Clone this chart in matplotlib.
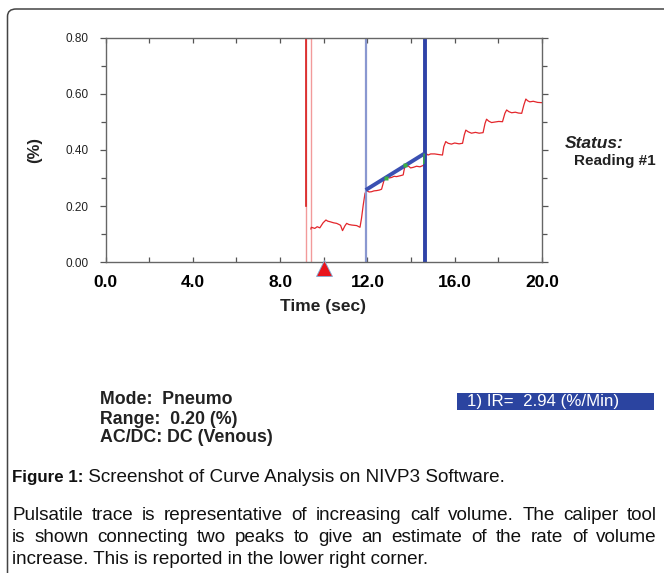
import matplotlib
matplotlib.use("Agg")
import matplotlib.pyplot as plt
from matplotlib.patches import FancyBboxPatch, Rectangle

plt.rcParams['font.family'] = ['Liberation Sans', 'DejaVu Sans']

# trace (sec, %)
trace_t = [9.41, 9.43, 9.59, 9.70, 9.82, 9.97, 10.10, 10.18, 10.28, 10.45,
           10.59, 10.70, 10.77, 10.86, 10.97, 11.05, 11.15, 11.28, 11.40, 11.51,
           11.66, 11.73, 11.81, 11.89, 11.96, 12.08, 12.19, 12.30, 12.42, 12.55,
           12.65, 12.72, 12.80, 12.91, 13.00, 13.11, 13.22, 13.34, 13.50, 13.64,
           13.68, 13.72, 13.87, 13.98, 14.10, 14.25, 14.41, 14.59, 14.62, 14.63,
           14.78, 14.90, 15.08, 15.25, 15.44, 15.50, 15.59, 15.70, 15.85, 16.00,
           16.20, 16.36, 16.44, 16.51, 16.62, 16.77, 16.95, 17.12, 17.30, 17.39,
           17.46, 17.56, 17.69, 17.85, 18.02, 18.19, 18.30, 18.38, 18.48, 18.61,
           18.78, 18.92, 19.07, 19.17, 19.26, 19.34, 19.44, 19.60, 19.80, 20.00]
trace_v = [0.118, 0.124, 0.120, 0.126, 0.122, 0.140, 0.150, 0.146, 0.144, 0.140,
           0.138, 0.134, 0.131, 0.112, 0.129, 0.138, 0.134, 0.132, 0.131, 0.130,
           0.124, 0.156, 0.204, 0.245, 0.255, 0.250, 0.251, 0.254, 0.255, 0.257,
           0.260, 0.280, 0.302, 0.307, 0.300, 0.302, 0.306, 0.305, 0.308, 0.311,
           0.328, 0.340, 0.343, 0.336, 0.338, 0.342, 0.340, 0.346, 0.370, 0.390,
           0.382, 0.386, 0.386, 0.384, 0.382, 0.412, 0.430, 0.424, 0.421, 0.425,
           0.422, 0.424, 0.454, 0.471, 0.465, 0.460, 0.463, 0.460, 0.462, 0.495,
           0.510, 0.503, 0.498, 0.500, 0.502, 0.501, 0.531, 0.543, 0.537, 0.533,
           0.535, 0.532, 0.531, 0.561, 0.582, 0.576, 0.572, 0.574, 0.570, 0.569]

# artefact spike before the trace
spike_t = [9.18, 9.18, 9.41, 9.41]
spike_v = [0.0, 0.80, 0.80, 0.0]
spike_dark_v = [0.20, 0.80]

# caliper
cursor1 = 11.92
cursor2 = 14.63
caliper_t = [11.92, 14.63]
caliper_v = [0.257, 0.388]
peak_marks_t = [12.84, 13.74]
peak_marks_v = [0.301, 0.345]
marker_t = 10.0

xticks = [0, 4, 8, 12, 16, 20]
xticks_minor = [2, 6, 10, 14, 18]
yticks = [0.0, 0.2, 0.4, 0.6, 0.8]
yticks_minor = [0.1, 0.3, 0.5, 0.7]

mode_lines = ["Mode:  Pneumo", "Range:  0.20 (%)", "AC/DC: DC (Venous)"]
ir_text = "1) IR=  2.94 (%/Min)"
caption_bold = "Figure 1:"
caption_rest = " Screenshot of Curve Analysis on NIVP3 Software."
para_lines = ["Pulsatile trace is representative of increasing calf volume. The caliper tool",
              "is shown connecting two peaks to give an estimate of the rate of volume",
              "increase. This is reported in the lower right corner."]

W, H = 664, 573
fig = plt.figure(figsize=(W / 100, H / 100), dpi=100)
fig.patch.set_facecolor('white')


def fx(px):
    return px / W


def fy(py):
    return 1 - py / H


# rounded frame around the whole figure panel
frame = FancyBboxPatch((fx(7.5), fy(600)), fx(700), fy(9) - fy(600),
                       boxstyle="round,pad=0,rounding_size=0.013",
                       transform=fig.transFigure, fill=False,
                       edgecolor='#444444', linewidth=1.1)
fig.patches.append(frame)

ax = fig.add_axes([fx(105.5), fy(262), fx(542) - fx(105.5), fy(38) - fy(262)])
ax.plot(spike_t, spike_v, color='#f29a9a', lw=1.0)
ax.plot(spike_t[:2], spike_dark_v, color='#d81e1e', lw=1.2)
ax.plot(trace_t, trace_v, color='#e3262b', lw=0.9)
ax.axvline(cursor1, color='#8a98d0', lw=1.6)
ax.axvline(cursor2, color='#2f43a8', lw=2.8)
ax.plot(caliper_t, caliper_v, color='#3a50b2', lw=2.8, solid_capstyle='butt')
ax.plot(peak_marks_t, peak_marks_v, linestyle='none', marker='s', ms=2.2,
        color='#3cb043', mec='none')
ax.plot([14.58, 14.60], [0.352, 0.385], color='#3cb043', lw=1.0)
ax.plot([marker_t], [-0.021], marker='^', ms=11, color='#e8141c',
        mec='#7fb0d8', mew=0.6, clip_on=False, zorder=5)

ax.set_xlim(0, 20)
ax.set_ylim(0, 0.8)
ax.set_xticks(xticks)
ax.set_xticks(xticks_minor, minor=True)
ax.set_xticklabels([f"{v:.1f}" for v in xticks], fontsize=12.5, fontweight='bold')
ax.set_yticks(yticks)
ax.set_yticks(yticks_minor, minor=True)
ax.set_yticklabels([f"{v:.2f}" for v in yticks], fontsize=8.5, color='#222222')

for s in ax.spines.values():
    s.set_color('#666666')
    s.set_linewidth(1.0)

ax.tick_params(axis='x', which='both', direction='in', top=True, length=3.5,
               width=0.9, color='#555555', pad=9)
ax.tick_params(axis='y', which='major', direction='out', right=True, length=4.5,
               width=0.9, color='#555555', pad=8)
ax.tick_params(axis='y', which='minor', direction='out', right=True, length=3.5,
               width=0.9, color='#555555')

fig.text(fx(323), fy(307), "Time (sec)", fontsize=12.5, fontweight='bold',
         ha='center', va='center', color='#222222')
fig.text(fx(35), fy(150), "(%)", fontsize=12, fontweight='bold', rotation=90,
         ha='center', va='center', color='#222222')

fig.text(fx(565), fy(143), "Status:", fontsize=12.5, fontweight='bold',
         style='italic', ha='left', va='center', color='#222222')
fig.text(fx(574), fy(161), "Reading #1", fontsize=11, fontweight='bold',
         ha='left', va='center', color='#222222')

for i, line in enumerate(mode_lines):
    fig.text(fx(100), fy(400 + 19 * i), line, fontsize=12.8, fontweight='bold',
             ha='left', va='center', color='#222222')

fig.patches.append(Rectangle((fx(457), fy(410)), fx(654) - fx(457), fy(393) - fy(410),
                             transform=fig.transFigure, facecolor='#2b44a0',
                             edgecolor='none'))
fig.text(fx(467), fy(401.5), ir_text, fontsize=12.2, color='white',
         ha='left', va='center')

renderer = fig.canvas.get_renderer()
fs = 13.6

cb = fig.text(fx(12), fy(482), caption_bold, fontsize=12.2, fontweight='bold',
              ha='left', va='baseline', color='#111111')
bw = cb.get_window_extent(renderer).width
fig.text(fx(12 + bw), fy(482), caption_rest, fontsize=fs,
         ha='left', va='baseline', color='#111111')

# justified paragraph (last line left aligned)
x0, x1 = 12, 657
for i, line in enumerate(para_lines):
    y = fy(520 + 22 * i)
    if i == len(para_lines) - 1:
        fig.text(fx(x0), y, line, fontsize=fs, ha='left', va='baseline', color='#111111')
        continue
    words = line.split()
    texts = [fig.text(0, y, w, fontsize=fs, ha='left', va='baseline', color='#111111')
             for w in words]
    widths = [t.get_window_extent(renderer).width for t in texts]
    gap = (x1 - x0 - sum(widths)) / (len(words) - 1)
    x = x0
    for t, wd in zip(texts, widths):
        t.set_x(fx(x))
        x += wd + gap

fig.savefig("out.png", dpi=100, facecolor='white')
